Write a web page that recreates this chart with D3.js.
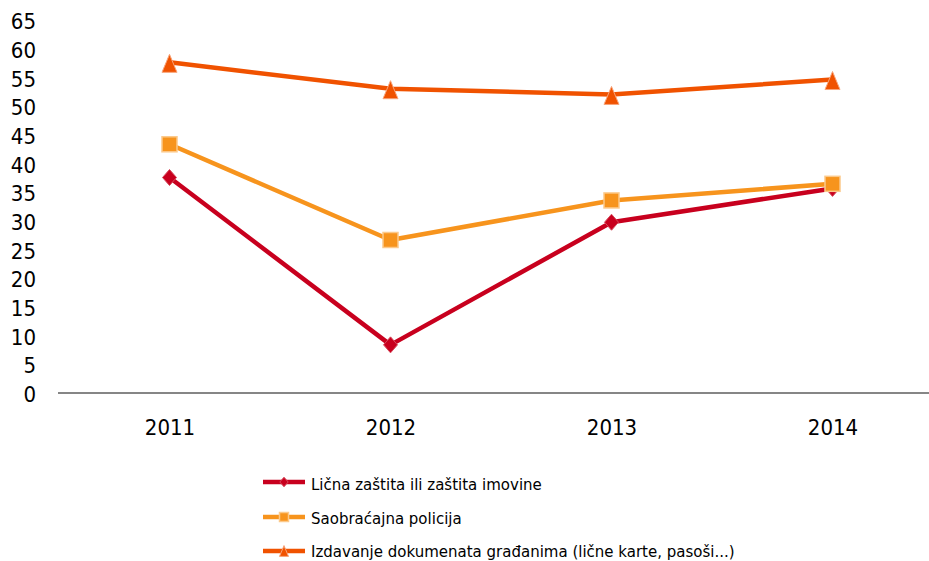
<!DOCTYPE html>
<html>
<head>
<meta charset="utf-8">
<script src="https://cdn.jsdelivr.net/npm/d3@7"></script>
<style>
  body { margin: 0; background: #fff; }
  svg text { font-family: "DejaVu Sans Condensed", "DejaVu Sans", sans-serif; fill: #000; }
  svg .legend-label { font-family: "DejaVu Sans", sans-serif; }
</style>
</head>
<body>
<svg id="chart" width="929" height="561"></svg>
<script>
// --- DATA ---
const years = ["2011", "2012", "2013", "2014"];
const licnaZastita = [37.6, 8.4, 29.8, 35.7];
const saobracajna = [43.4, 26.7, 33.6, 36.5];
const izdavanje = [57.7, 53.1, 52.1, 54.7];
const yTicks = [0, 5, 10, 15, 20, 25, 30, 35, 40, 45, 50, 55, 60, 65];
const seriesNames = [
    "Lična zaštita ili zaštita imovine",
    "Saobraćajna policija",
    "Izdavanje dokumenata građanima (lične karte, pasoši...)"
];

const series = [
    { name: seriesNames[0], values: licnaZastita, color: "#c8001e", shape: "diamond" },
    { name: seriesNames[1], values: saobracajna, color: "#f7941d", shape: "square" },
    { name: seriesNames[2], values: izdavanje, color: "#f05200", shape: "triangle" }
];

const svg = d3.select("#chart");

// --- SCALES ---
const x = d3.scalePoint().domain(years).range([59, 943]).padding(0.5);
const y = d3.scaleLinear().domain([0, 65]).range([393, 20.5]);

// --- AXES ---
const yAxis = svg.append("g").attr("transform", "translate(36,0)")
    .call(d3.axisLeft(y).tickValues(yTicks).tickSize(0).tickPadding(0));
yAxis.select(".domain").remove();
yAxis.selectAll("text").style("font-size", "22px").attr("dy", "0.38em");

svg.append("line").attr("x1", 58).attr("x2", 929).attr("y1", 393).attr("y2", 393)
    .attr("stroke", "#868686").attr("stroke-width", 2);

const xAxis = svg.append("g").attr("transform", "translate(0,393)")
    .call(d3.axisBottom(x).tickSize(0).tickPadding(0));
xAxis.select(".domain").remove();
xAxis.selectAll("text").style("font-size", "22px").attr("y", 42).attr("dy", 0);

// --- MARKERS ---
function drawMarker(g, shape, color, cx, cy, s) {
    if (shape === "diamond") {
        g.append("path")
            .attr("d", `M${cx},${cy - 8 * s} L${cx + 7 * s},${cy} L${cx},${cy + 8 * s} L${cx - 7 * s},${cy} Z`)
            .attr("fill", color).attr("stroke", "#d64a5c").attr("stroke-width", 1);
    } else if (shape === "square") {
        g.append("rect").attr("x", cx - 7.5 * s).attr("y", cy - 7.5 * s)
            .attr("width", 15 * s).attr("height", 15 * s)
            .attr("fill", color).attr("stroke", "#fcc98a").attr("stroke-width", 1.5);
    } else {
        g.append("path")
            .attr("d", `M${cx},${cy - 9 * s} L${cx + 7.5 * s},${cy + 9 * s} L${cx - 7.5 * s},${cy + 9 * s} Z`)
            .attr("fill", color).attr("stroke", "#f8a47a").attr("stroke-width", 1);
    }
}

// --- LINES ---
const line = d3.line().x((d, i) => x(years[i])).y(d => y(d));
const plot = svg.append("g");
series.forEach(s => {
    const g = plot.append("g");
    g.append("path").datum(s.values).attr("d", line)
        .attr("fill", "none").attr("stroke", s.color).attr("stroke-width", 4.5)
        .attr("stroke-linejoin", "round");
    s.values.forEach((v, i) => {
        const yy = s.shape === "triangle" ? y(v) + 1 : y(v);
        drawMarker(g, s.shape, s.color, x(years[i]), yy, 1);
    });
});

// --- LEGEND ---
const legend = svg.append("g");
const legendY = [482, 517, 551];
const legendTextY = [490, 523.5, 556.5];
series.forEach((s, i) => {
    const g = legend.append("g");
    g.append("line").attr("x1", 263).attr("x2", 305).attr("y1", legendY[i]).attr("y2", legendY[i])
        .attr("stroke", s.color).attr("stroke-width", 4.5);
    drawMarker(g, s.shape, s.color, 284, legendY[i], 0.6);
    g.append("text").attr("class", "legend-label").attr("x", 311).attr("y", legendTextY[i])
        .style("font-size", "15px").text(s.name);
});
</script>
</body>
</html>
